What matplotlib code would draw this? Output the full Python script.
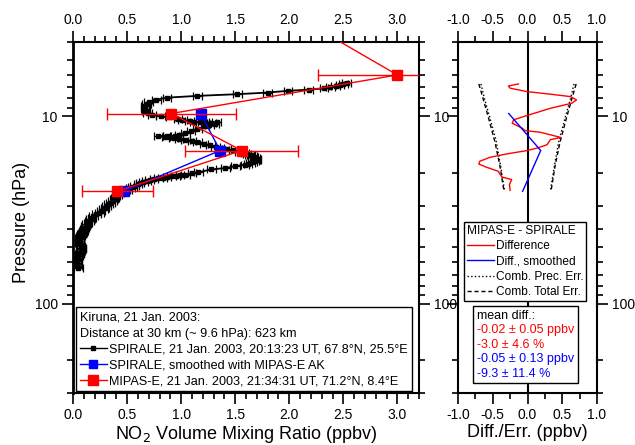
import matplotlib
matplotlib.use("Agg")
import matplotlib.pyplot as plt
from matplotlib.lines import Line2D
from matplotlib.ticker import FixedLocator, NullFormatter, FixedFormatter

plt.rcParams['font.family'] = ['Liberation Sans', 'DejaVu Sans']
plt.rcParams['axes.unicode_minus'] = False

# ---------------- data ----------------
# SPIRALE NO2 profile (ppbv) vs pressure (hPa)
spiral_vmr = [2.53, 2.50, 2.47, 2.43, 2.38, 2.32, 2.18, 1.99, 1.80, 1.52, 1.15, 0.87,
              0.77, 0.70, 0.68, 0.67, 0.665, 0.675, 0.69, 0.73, 0.81, 0.90, 0.97, 1.01,
              1.08, 1.12, 1.18, 1.22, 1.28, 1.33, 1.31, 1.26, 1.22, 1.15, 1.09, 1.04,
              0.98, 0.94, 0.87, 0.79, 0.86, 0.93, 0.98, 1.04, 1.10, 1.15, 1.21, 1.27,
              1.32, 1.36, 1.42, 1.48, 1.54, 1.59, 1.61, 1.63, 1.645, 1.66, 1.675, 1.69,
              1.70, 1.70, 1.69, 1.68, 1.66, 1.64, 1.62, 1.59, 1.50, 1.41, 1.28,
              1.16, 1.10, 1.04, 0.99, 0.95, 0.91, 0.87, 0.83, 0.79, 0.75, 0.71, 0.68,
              0.65, 0.62, 0.60, 0.57, 0.55, 0.53, 0.51, 0.49,
              0.47, 0.445, 0.43, 0.41, 0.398, 0.39, 0.38, 0.367, 0.345, 0.327, 0.31, 0.295,
              0.281, 0.26, 0.244, 0.215, 0.188, 0.175, 0.164, 0.15, 0.138, 0.127, 0.118, 0.11,
              0.102, 0.095, 0.087, 0.08, 0.072, 0.063, 0.058, 0.06, 0.062, 0.065, 0.07, 0.076,
              0.08, 0.072, 0.064, 0.058, 0.05, 0.044, 0.04, 0.036, 0.034, 0.034, 0.04, 0.049]
spiral_p = [6.64, 6.70, 6.76, 6.85, 6.98, 7.08, 7.19, 7.29, 7.45, 7.60, 7.76, 7.93,
            8.13, 8.32, 8.55, 8.81, 9.08, 9.33, 9.59, 9.79, 10.0, 10.12, 10.28, 10.42,
            10.57, 10.64, 10.72, 10.74, 10.81, 10.72, 10.91, 11.09, 11.30, 11.70, 12.02, 12.27,
            12.50, 12.68, 12.74, 12.76, 12.88, 13.03, 13.12, 13.30, 13.52, 13.74, 14.00, 14.26,
            14.49, 14.76, 14.96, 15.17, 15.42, 15.67, 15.85, 16.00, 16.14, 16.33, 16.52, 16.67,
            16.83, 16.98, 17.18, 17.38, 17.58, 17.78, 17.95, 18.07, 18.45, 18.84, 19.19,
            19.86, 20.14, 20.42, 20.61, 20.80, 20.89, 20.99, 21.18, 21.38, 21.58, 21.73, 22.08,
            22.39, 22.75, 23.07, 23.44, 23.88, 24.21, 24.55, 24.83,
            25.12, 25.41, 25.70, 26.18, 26.67, 27.16, 27.67, 28.31, 28.91, 29.51, 30.06, 30.69,
            31.33, 31.99, 32.66, 33.34, 34.04, 34.75, 35.48, 36.14, 36.90, 37.67, 38.46, 39.26,
            40.09, 40.93, 41.69, 42.56, 43.45, 44.36, 45.29, 46.24, 47.21, 48.19, 49.20, 50.12,
            51.17, 52.24, 53.33, 54.45, 55.59, 56.75, 57.81, 59.02, 60.26, 61.52, 62.81, 64.12]
spiral_err = 0.04

# SPIRALE smoothed with MIPAS-E averaging kernels
smooth_vmr = [1.18, 1.36, 0.47]
smooth_p = [9.64, 15.2, 25.1]

# MIPAS-E
mipas_vmr = [2.10, 3.00, 0.91, 1.56, 0.41]
mipas_p = [3.0, 6.0, 9.64, 15.2, 25.1]
mipas_err = [0.75, 0.73, 0.60, 0.52, 0.33]

# Difference MIPAS-E - SPIRALE
diff_val = [-0.13, -0.275, -0.25, -0.01, 0.33, 0.62, 0.705, 0.64, 0.33, -0.01, -0.20, -0.22,
            -0.08, -0.03, 0.18, 0.33, 0.48, 0.33, 0.28, 0.135, -0.01, -0.30, -0.54, -0.686,
            -0.70, -0.59, -0.42, -0.37, -0.227, -0.26, -0.25]
diff_p = [6.70, 6.87, 7.06, 7.36, 7.60, 7.83, 8.15, 8.49, 9.04, 9.89, 10.42, 10.86,
          11.53, 11.91, 12.13, 12.53, 12.94, 13.30, 14.16, 14.76, 15.21, 15.85, 16.52, 17.34,
          17.95, 18.66, 19.63, 21.04, 21.73, 23.07, 24.83]

diff_smooth_val = [-0.27, 0.19, -0.07]
diff_smooth_p = [9.64, 15.2, 25.1]

# Combined errors (+/-)
err_p = [6.7, 8.0, 10.2, 13.6, 18.1, 24.8]
prec_err = [0.67, 0.62, 0.54, 0.45, 0.39, 0.33]
total_err = [0.70, 0.64, 0.56, 0.47, 0.40, 0.34]

mean_diff_lines = ["-0.02 \u00b1 0.05 ppbv", "-3.0 \u00b1 4.6 %",
                   "-0.05 \u00b1 0.13 ppbv", "-9.3 \u00b1 11.4 %"]
mean_diff_colors = ["red", "red", "blue", "blue"]

# ---------------- figure ----------------
fig = plt.figure(figsize=(6.35, 4.45), dpi=100)
ax1 = fig.add_axes([73 / 635, 1 - 393 / 445, 346 / 635, 351 / 445])
ax2 = fig.add_axes([458 / 635, 1 - 393 / 445, 139 / 635, 351 / 445])

major_p = [10, 100]
minor_p = [4, 5, 6, 7, 8, 9, 20, 30, 40, 50, 60, 70, 80, 90, 200, 300]

for ax in (ax1, ax2):
    ax.set_yscale('log')
    ax.set_ylim(300, 4)
    ax.yaxis.set_major_locator(FixedLocator(major_p))
    ax.yaxis.set_major_formatter(FixedFormatter(['10', '100']))
    ax.yaxis.set_minor_locator(FixedLocator(minor_p))
    ax.yaxis.set_minor_formatter(NullFormatter())
    for s in ax.spines.values():
        s.set_linewidth(1.5)
    ax.tick_params(which='both', direction='out', top=True, right=True, labelsize=10,
                   width=1.2, pad=3)
    ax.tick_params(which='major', length=8)
    ax.tick_params(which='minor', length=4)

ax1.spines['left'].set_linewidth(2)

# Left panel
ax1.set_xlim(0, 3.2)
ax1.xaxis.set_major_locator(FixedLocator([0, 0.5, 1.0, 1.5, 2.0, 2.5, 3.0]))
ax1.xaxis.set_minor_locator(FixedLocator([i / 10 for i in range(33)]))
ax1.tick_params(labeltop=True, labelright=True)

ax1.errorbar(spiral_vmr, spiral_p, xerr=spiral_err, color='black', marker='s',
             markersize=3.5, lw=1.3, elinewidth=0.9, capsize=3, capthick=0.9, zorder=3)
ax1.plot(smooth_vmr, smooth_p, color='blue', marker='s', markersize=6.5, lw=1.0, zorder=4)
ax1.errorbar(mipas_vmr, mipas_p, xerr=mipas_err, color='red', marker='s',
             markersize=7, lw=1.0, elinewidth=1.0, capsize=4, capthick=1.0, zorder=5)

ax1.set_xlabel('NO$_2$ Volume Mixing Ratio (ppbv)', fontsize=13)
ax1.xaxis.set_label_coords(0.5, -0.088)
ax1.set_ylabel('Pressure (hPa)', fontsize=13)
ax1.yaxis.set_label_coords(-0.125, 0.487)

h_sp = Line2D([], [], color='black', marker='s', markersize=3.5, lw=1.0)
h_sm = Line2D([], [], color='blue', marker='s', markersize=6, lw=1.0)
h_mi = Line2D([], [], color='red', marker='s', markersize=6.5, lw=1.0)
leg1 = ax1.legend([h_sp, h_sm, h_mi],
                  ['SPIRALE, 21 Jan. 2003, 20:13:23 UT, 67.8\u00b0N, 25.5\u00b0E',
                   'SPIRALE, smoothed with MIPAS-E AK',
                   'MIPAS-E, 21 Jan. 2003, 21:34:31 UT, 71.2\u00b0N, 8.4\u00b0E'],
                  title='Kiruna, 21 Jan. 2003:\nDistance at 30 km (~ 9.6 hPa): 623 km',
                  alignment='left', loc='lower left', bbox_to_anchor=(0.008, 0.006),
                  borderaxespad=0, fontsize=9.1, title_fontsize=9.1, fancybox=False,
                  edgecolor='black', framealpha=1, handlelength=2.2, handletextpad=0.15,
                  labelspacing=0.3, borderpad=0.3)
leg1.get_title().set_linespacing(1.5)
leg1.get_frame().set_linewidth(1.0)

# Right panel
ax2.set_xlim(-1, 1)
ax2.xaxis.set_major_locator(FixedLocator([-1, -0.5, 0, 0.5, 1]))
ax2.xaxis.set_minor_locator(FixedLocator([-0.75, -0.25, 0.25, 0.75]))
ax2.tick_params(labeltop=True, labelright=True, labelleft=False)
ax2.axvline(0, color='black', lw=1.5, zorder=1)

ax2.plot(prec_err, err_p, color='black', ls=':', lw=1.0)
ax2.plot([-v for v in prec_err], err_p, color='black', ls=':', lw=1.0)
ax2.plot(total_err, err_p, color='black', ls=(0, (3, 2)), lw=1.0)
ax2.plot([-v for v in total_err], err_p, color='black', ls=(0, (3, 2)), lw=1.0)
ax2.plot(diff_val, diff_p, color='red', lw=1.0)
ax2.plot(diff_smooth_val, diff_smooth_p, color='blue', lw=1.0)

ax2.set_xlabel('Diff./Err. (ppbv)', fontsize=13)
ax2.xaxis.set_label_coords(0.5, -0.088)

hl = [Line2D([], [], color='red', lw=1.0),
      Line2D([], [], color='blue', lw=1.0),
      Line2D([], [], color='black', ls=':', lw=1.0),
      Line2D([], [], color='black', ls=(0, (3, 2)), lw=1.0)]
leg2 = ax2.legend(hl, ['Difference', 'Diff., smoothed', 'Comb. Prec. Err.',
                       'Comb. Total Err.'],
                  title='MIPAS-E - SPIRALE', alignment='left', loc='upper left',
                  bbox_to_anchor=(0.04, 0.488), borderaxespad=0, fontsize=8.6,
                  title_fontsize=8.6, fancybox=False, edgecolor='black', framealpha=1,
                  handlelength=2.3, handletextpad=0.15, labelspacing=0.28,
                  borderpad=0.25)
leg2.get_frame().set_linewidth(1.0)
ax2.add_artist(leg2)

hm = [Line2D([], [], lw=0) for _ in mean_diff_lines]
leg3 = ax2.legend(hm, mean_diff_lines, title='mean diff.:', alignment='left',
                  loc='upper left', bbox_to_anchor=(0.108, 0.248), borderaxespad=0,
                  fontsize=9, title_fontsize=9, fancybox=False, edgecolor='black',
                  framealpha=1, handlelength=0, handletextpad=0, labelspacing=0.2,
                  borderpad=0.3, labelcolor=mean_diff_colors)
leg3.get_frame().set_linewidth(1.0)

fig.savefig('out.png', dpi=100)
